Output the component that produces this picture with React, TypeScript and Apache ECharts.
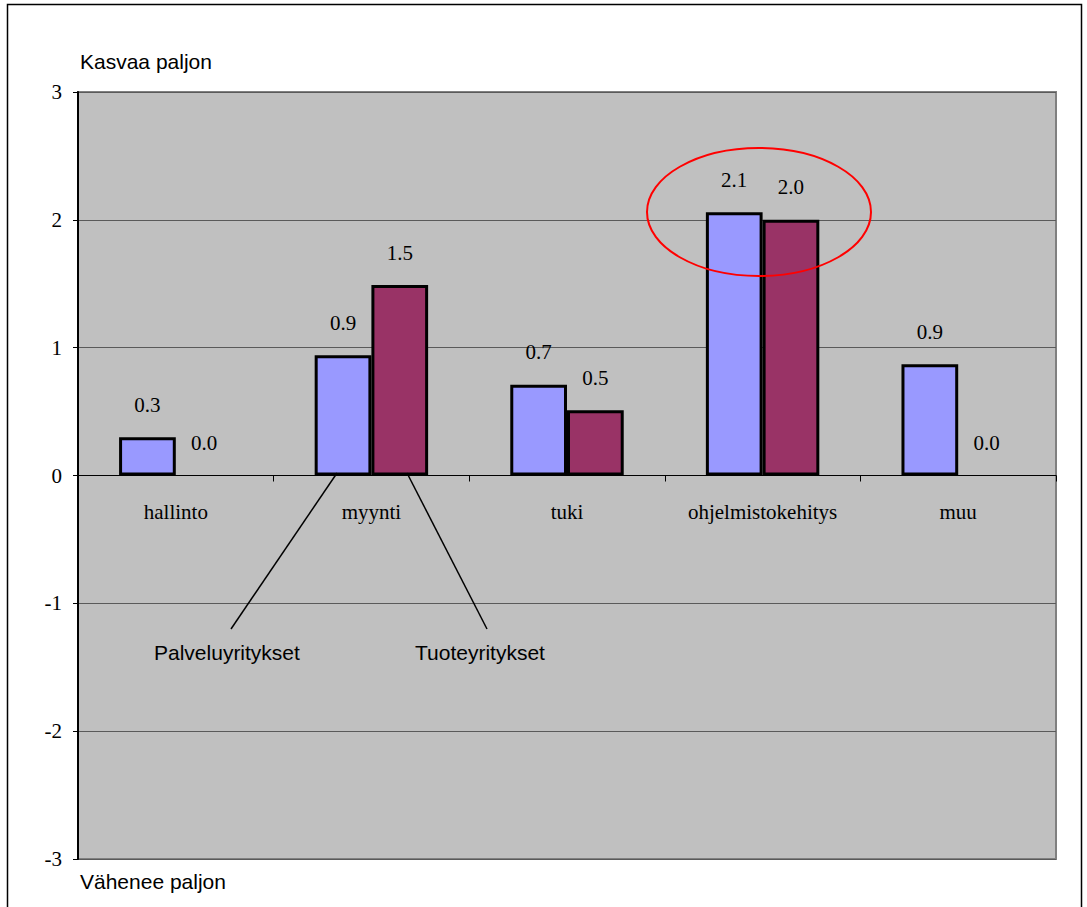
import React, { useEffect, useRef } from "react";
import * as echarts from "echarts";

// Categories and the two series
const categories = ["hallinto", "myynti", "tuki", "ohjelmistokehitys", "muu"];
const palveluyritykset = [0.3, 0.94, 0.71, 2.06, 0.87];
const tuoteyritykset = [0, 1.49, 0.51, 2.0, 0];
const yTicks = { min: -3, max: 3, interval: 1 };

const SERIF = "'Liberation Serif', 'Times New Roman', serif";
const SANS = "'Liberation Sans', Arial, sans-serif";

export default function App() {
  const ref = useRef<HTMLDivElement>(null);

  useEffect(() => {
    if (!ref.current) return;
    const chart = echarts.init(ref.current, undefined, { renderer: "svg" });

    const label = {
      show: true,
      position: "top" as const,
      distance: 22,
      color: "#000",
      fontFamily: SERIF,
      fontSize: 21,
      formatter: (p: any) => Number(p.value).toFixed(1),
    };

    const toData = (arr: number[]) =>
      arr.map((v) => (v === 0 ? { value: v, itemStyle: { borderWidth: 0 } } : v));

    chart.setOption({
      animation: false,
      backgroundColor: "#ffffff",
      grid: {
        left: 78,
        top: 92,
        right: 31,
        bottom: 48,
        show: true,
        backgroundColor: "#c0c0c0",
        borderColor: "#808080",
        borderWidth: 2,
      },
      xAxis: {
        type: "category",
        data: categories,
        axisLine: { onZero: true, lineStyle: { color: "#000", width: 1 } },
        axisTick: { show: true, length: 6, lineStyle: { color: "#000" } },
        axisLabel: { show: false },
        z: 3,
      },
      yAxis: {
        type: "value",
        min: yTicks.min,
        max: yTicks.max,
        interval: yTicks.interval,
        axisLine: { show: true, lineStyle: { color: "#000", width: 2 } },
        axisTick: { show: true, length: 5, lineStyle: { color: "#000" } },
        axisLabel: {
          margin: 16,
          color: "#000",
          fontFamily: SERIF,
          fontSize: 21,
        },
        splitLine: { show: true, lineStyle: { color: "#5a5a5a", width: 1 } },
      },
      series: [
        {
          name: "Palveluyritykset",
          type: "bar",
          data: toData(palveluyritykset),
          barGap: "0%",
          barCategoryGap: "42%",
          itemStyle: { color: "#9999ff", borderColor: "#000", borderWidth: 3 },
          label,
          z: 4,
        },
        {
          name: "Tuoteyritykset",
          type: "bar",
          data: toData(tuoteyritykset),
          itemStyle: { color: "#993366", borderColor: "#000", borderWidth: 3 },
          label,
          z: 4,
        },
        // category names sit just under the zero line
        {
          name: "categoryNames",
          type: "scatter",
          data: categories.map((c) => [c, 0]),
          symbolSize: 0,
          silent: true,
          itemStyle: { opacity: 1 },
          label: {
            show: true,
            position: "bottom",
            distance: 26,
            color: "#000",
            opacity: 1,
            fontFamily: SERIF,
            fontSize: 21,
            formatter: (p: any) => p.value[0],
          },
          z: 5,
        },
      ],
      graphic: [
        // outer frame of the chart
        {
          type: "rect",
          shape: { x: 7.5, y: 4.5, width: 1074, height: 920 },
          style: { fill: "none", stroke: "#000", lineWidth: 1.5 },
          silent: true,
        },
        {
          type: "text",
          x: 80,
          y: 61,
          style: {
            text: "Kasvaa paljon",
            fontFamily: SANS,
            fontSize: 21,
            fill: "#000",
            verticalAlign: "middle",
          },
        },
        {
          type: "text",
          x: 80,
          y: 881,
          style: {
            text: "Vähenee paljon",
            fontFamily: SANS,
            fontSize: 21,
            fill: "#000",
            verticalAlign: "middle",
          },
        },
        // pointer lines from the myynti bars to their series names
        {
          type: "line",
          shape: { x1: 337, y1: 473, x2: 231, y2: 629 },
          style: { stroke: "#000", lineWidth: 1.5 },
          z: 10,
        },
        {
          type: "line",
          shape: { x1: 407, y1: 473, x2: 487, y2: 629 },
          style: { stroke: "#000", lineWidth: 1.5 },
          z: 10,
        },
        {
          type: "text",
          x: 154,
          y: 652,
          style: {
            text: "Palveluyritykset",
            fontFamily: SANS,
            fontSize: 21,
            fill: "#000",
            verticalAlign: "middle",
          },
          z: 10,
        },
        {
          type: "text",
          x: 415,
          y: 652,
          style: {
            text: "Tuoteyritykset",
            fontFamily: SANS,
            fontSize: 21,
            fill: "#000",
            verticalAlign: "middle",
          },
          z: 10,
        },
        // highlight around the ohjelmistokehitys bars
        {
          type: "ellipse",
          shape: { cx: 759, cy: 212, rx: 112, ry: 64 },
          style: { fill: "none", stroke: "#ff0000", lineWidth: 2 },
          z: 10,
        },
      ],
    });

    return () => chart.dispose();
  }, []);

  return (
    <div
      ref={ref}
      style={{ position: "fixed", left: 0, top: 0, width: 1087, height: 907 }}
    />
  );
}
